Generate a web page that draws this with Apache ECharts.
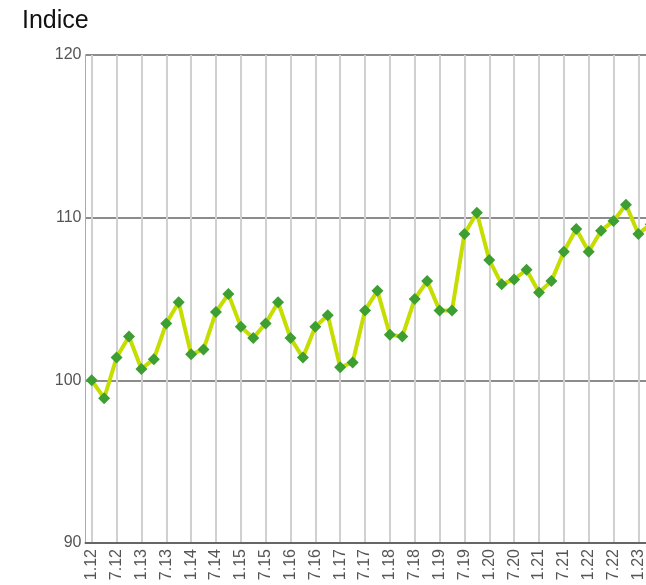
<!DOCTYPE html>
<html>
<head>
<meta charset="utf-8">
<script src="https://cdn.jsdelivr.net/npm/echarts@6/dist/echarts.min.js"></script>
<style>html,body{margin:0;padding:0;background:#fff;overflow:hidden}#c{width:657px;height:585px}</style>
</head>
<body>
<div id="c"></div>
<script>
const titleText = "Indice";
const categories = [
  "1.12","4.12","7.12","10.12","1.13","4.13","7.13","10.13","1.14","4.14","7.14","10.14",
  "1.15","4.15","7.15","10.15","1.16","4.16","7.16","10.16","1.17","4.17","7.17","10.17",
  "1.18","4.18","7.18","10.18","1.19","4.19","7.19","10.19","1.20","4.20","7.20","10.20",
  "1.21","4.21","7.21","10.21","1.22","4.22","7.22","10.22","1.23","4.23"
];
const values = [
  100.0, 98.9, 101.4, 102.7, 100.7, 101.3, 103.5, 104.8, 101.6, 101.9, 104.2, 105.3,
  103.3, 102.6, 103.5, 104.8, 102.6, 101.4, 103.3, 104.0, 100.8, 101.1, 104.3, 105.5,
  102.8, 102.7, 105.0, 106.1, 104.3, 104.3, 109.0, 110.3, 107.4, 105.9, 106.2, 106.8,
  105.4, 106.1, 107.9, 109.3, 107.9, 109.2, 109.8, 110.8, 109.0, 109.6
];
const yMin = 90, yMax = 120, yStep = 10;

const chart = echarts.init(document.getElementById('c'), null, {renderer: 'canvas'});
chart.setOption({
  animation: false,
  backgroundColor: '#fff',
  title: {
    text: titleText, left: 22, top: 9, padding: 0,
    textStyle: {fontFamily: 'Liberation Sans', fontSize: 25, fontWeight: 'normal', color: '#111'}
  },
  grid: {left: 85.5, right: 0, top: 55, bottom: 42, containLabel: false},
  xAxis: {
    type: 'category', data: categories, boundaryGap: true,
    axisLine: {show: true, lineStyle: {color: '#666', width: 2}},
    axisTick: {show: false},
    axisLabel: {
      interval: 1, rotate: 90, margin: 6,
      fontFamily: 'Liberation Sans', fontSize: 16, color: '#555'
    },
    splitLine: {show: true, interval: 1, alignWithLabel: true, lineStyle: {color: '#d0d0d0', width: 2}}
  },
  yAxis: {
    type: 'value', min: yMin, max: yMax, interval: yStep,
    axisLine: {show: true, lineStyle: {color: '#aaa', width: 1}},
    axisTick: {show: false},
    axisLabel: {margin: 4, fontFamily: 'Liberation Sans', fontSize: 16, color: '#555'},
    splitLine: {show: true, lineStyle: {color: '#666', width: 1.5}}
  },
  series: [{
    type: 'line', data: values,
    symbol: 'diamond', symbolSize: 12, showAllSymbol: true,
    lineStyle: {color: '#c6dd00', width: 4},
    itemStyle: {color: '#3d9e32'},
    z: 3
  }]
});
</script>
</body>
</html>
